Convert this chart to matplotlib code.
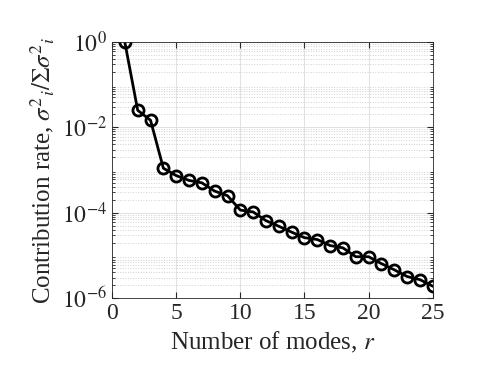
import matplotlib.pyplot as plt
import numpy as np
from matplotlib.ticker import LogLocator, NullFormatter

plt.rcParams["font.family"] = ["Liberation Serif", "DejaVu Serif"]
plt.rcParams["mathtext.fontset"] = "stix"

modes = np.arange(1, 26)
rate = np.array([0.97, 0.025, 0.0146, 1.1e-3, 7.4e-4, 5.7e-4, 5.0e-4, 3.2e-4, 2.5e-4,
                 1.15e-4, 1.04e-4, 6.5e-5, 4.8e-5, 3.5e-5, 2.6e-5, 2.35e-5, 1.7e-5,
                 1.5e-5, 9.3e-6, 9.3e-6, 6.4e-6, 4.6e-6, 3.2e-6, 2.7e-6, 1.9e-6])

fig = plt.figure(figsize=(4.98, 3.74), dpi=100)
ax = fig.add_axes([0.225, 0.203, 0.644, 0.685])

ax.semilogy(modes, rate, "k-o", lw=2, markersize=8, markerfacecolor="none", markeredgewidth=2)

ax.set_xlim(0, 25)
ax.set_ylim(1e-6, 1)
ax.set_xticks([0, 5, 10, 15, 20, 25])
ax.set_yticks([1e-6, 1e-4, 1e-2, 1])
ax.set_yticklabels(["$10^{-6}$", "$10^{-4}$", "$10^{-2}$", "$10^{0}$"])
ax.yaxis.set_minor_locator(LogLocator(base=10, subs=np.arange(2, 10), numticks=50))
ax.yaxis.set_minor_formatter(NullFormatter())

ax.grid(True, which="major", color="#dcdcdc", lw=0.6)
ax.grid(True, which="minor", axis="y", color="#d0d0d0", lw=0.7, ls=":")
ax.set_axisbelow(True)
ax.tick_params(which="both", direction="in", top=True, right=True, labelsize=17, colors="#262626")
ax.tick_params(which="major", length=4)
ax.tick_params(which="minor", length=2)
for s in ax.spines.values():
    s.set_color("#262626")
    s.set_linewidth(0.6)

ax.set_xlabel("Number of modes, $r$", fontsize=18, color="#262626")
ax.set_ylabel(r"Contribution rate, $\sigma^2{}_i/\Sigma\sigma^2{}_i$", fontsize=18, color="#262626")

fig.savefig("out.png", dpi=100)
